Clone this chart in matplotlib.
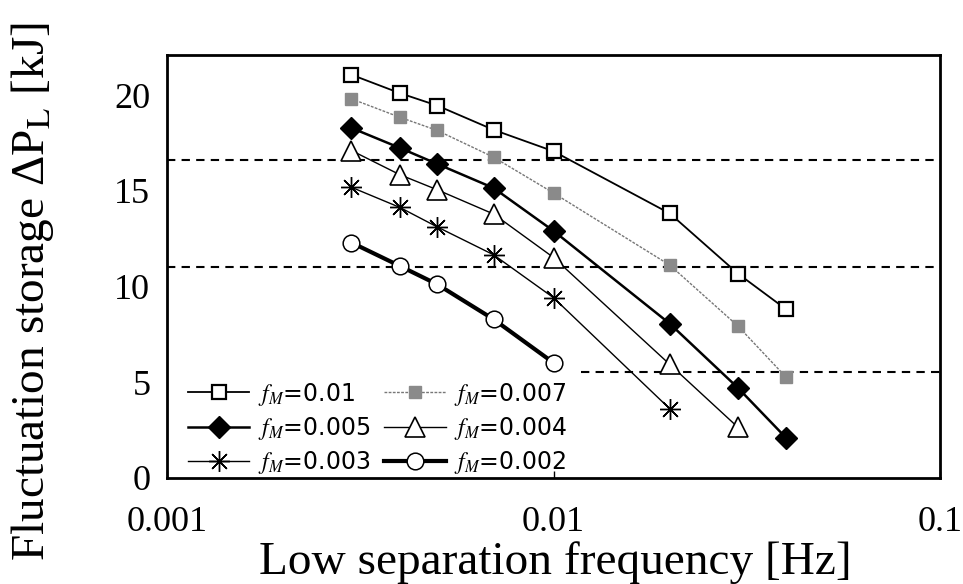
import matplotlib
matplotlib.use("Agg")
import matplotlib.pyplot as plt

plt.rcParams['font.family'] = ['Liberation Serif', 'DejaVu Serif']
plt.rcParams['mathtext.fontset'] = 'stix'

freq = [0.003, 0.004, 0.005, 0.007, 0.01, 0.02, 0.03, 0.04]

fm_010 = [21.07, 20.11, 19.46, 18.19, 17.07, 13.82, 10.68, 8.81]
fm_007 = [19.81, 18.85, 18.16, 16.76, 14.89, 11.12, 7.94, 5.26]
fm_005 = [18.29, 17.25, 16.41, 15.15, 12.91, 8.06, 4.71, 2.09]
fm_004 = [17.11, 15.85, 15.06, 13.79, 11.52, 5.93, 2.65]
fm_003 = [15.19, 14.14, 13.12, 11.66, 9.42, 3.61]
fm_002 = [12.30, 11.08, 10.12, 8.29, 6.02]

dash_levels = [16.62, 11.03, 5.55]
dash_starts = [0.001, 0.001, 0.0118]

labels = ["$f_M$=0.01", "$f_M$=0.007", "$f_M$=0.005",
          "$f_M$=0.004", "$f_M$=0.003", "$f_M$=0.002"]

xticks = [0.001, 0.01, 0.1]
xticklabels = ["0.001", "0.01", "0.1"]
yticks = [0, 5, 10, 15, 20]

fig = plt.figure(figsize=(9.63, 5.84), dpi=100)
ax = fig.add_axes([167/963, 1-478/584, (940-167)/963, (478-55)/584])

for lvl, st in zip(dash_levels, dash_starts):
    ax.plot([st, 0.1], [lvl, lvl], color='black', linestyle=(0, (4, 3)), lw=1.5, zorder=1)

h1, = ax.plot(freq[:len(fm_010)], fm_010, color='black', lw=1.3, marker='s', ms=10,
              mfc='white', mec='black', mew=1.6, label=labels[0], zorder=3)
h2, = ax.plot(freq[:len(fm_007)], fm_007, color='#777777', lw=1.0, linestyle=(0, (2, 1)),
              marker='s', ms=8, mfc='#8a8a8a', mec='#8a8a8a', label=labels[1], zorder=3)
h3, = ax.plot(freq[:len(fm_005)], fm_005, color='black', lw=1.8, marker='D', ms=11,
              mfc='black', mec='black', label=labels[2], zorder=3)
h4, = ax.plot(freq[:len(fm_004)], fm_004, color='black', lw=1.0, marker='^', ms=15,
              mfc='white', mec='black', mew=1.2, label=labels[3], zorder=3)
h5, = ax.plot(freq[:len(fm_003)], fm_003, color='black', lw=1.0, marker=(8, 2, 0), ms=15,
              mec='black', mew=1.0, label=labels[4], zorder=3)
h6, = ax.plot(freq[:len(fm_002)], fm_002, color='black', lw=3.0, marker='o', ms=12,
              mfc='white', mec='black', mew=1.1, label=labels[5], zorder=3)

ax.set_xscale('log')
ax.set_xlim(0.001, 0.1)
ax.set_ylim(0, 22.1)
ax.set_xticks(xticks)
ax.set_xticklabels(xticklabels)
ax.xaxis.set_minor_locator(matplotlib.ticker.NullLocator())
ax.set_yticks(yticks)
ax.tick_params(axis='x', direction='in', length=5, width=1, pad=20, labelsize=26)
ax.tick_params(axis='y', direction='in', length=0, pad=12, labelsize=26)
for sp in ax.spines.values():
    sp.set_linewidth(2.0)

leg = ax.legend(handles=[h1, h3, h5, h2, h4, h6], ncol=2, loc='lower left',
                bbox_to_anchor=(0.027, 0.005), frameon=False, borderpad=0,
                borderaxespad=0, handlelength=2.6, handletextpad=0.35,
                columnspacing=0.6, labelspacing=0.3,
                prop={'family': 'DejaVu Sans', 'size': 17})

fig.text(555/963, 1-563/584, "Low separation frequency [Hz]", ha='center', va='center',
         fontsize=34)
fig.text(33/963, 0.5, "Fluctuation storage ΔP$_{\\mathrm{L}}$ [kJ]",
         ha='center', va='center', rotation=90, fontsize=34)

fig.savefig("out.png", dpi=100)
